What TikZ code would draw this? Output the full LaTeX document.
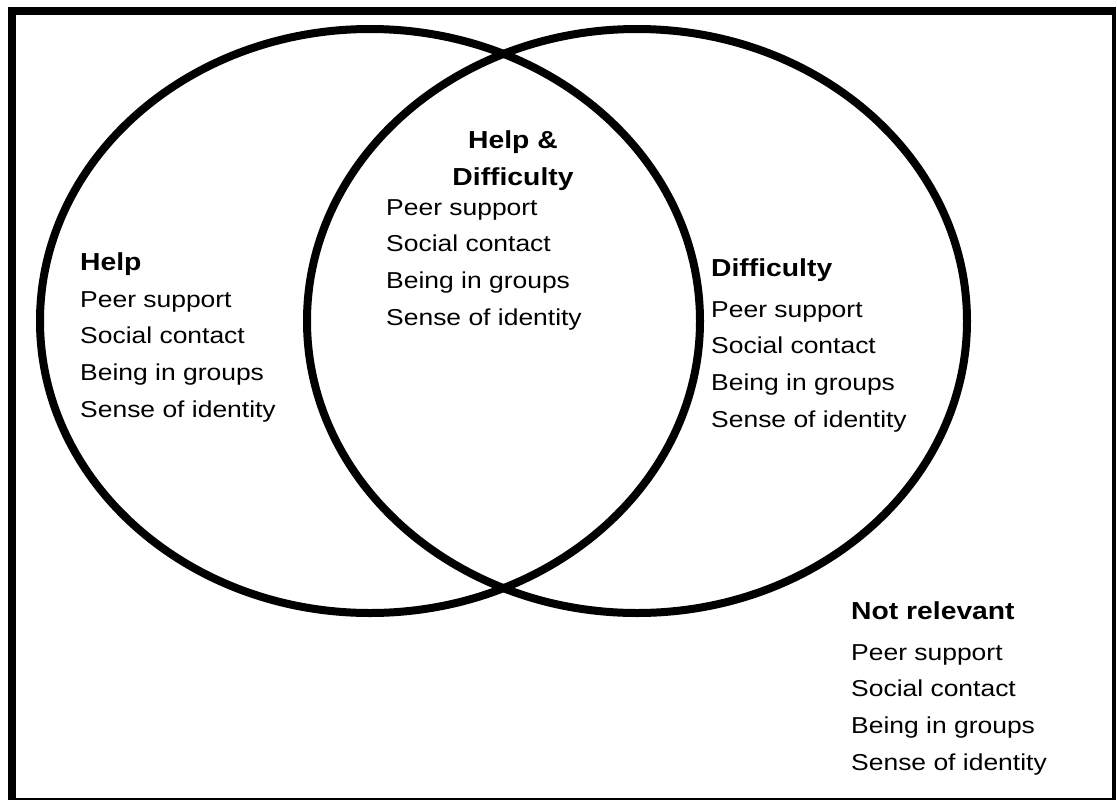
\documentclass[tikz,border=0pt]{standalone}
\usepackage{fontspec}
\setmainfont{Liberation Sans}[FakeStretch=1.15]
\usetikzlibrary{shapes.geometric}
\begin{document}
\begin{tikzpicture}[x=1pt,y=-1pt,
  txt/.style={anchor=base west, inner sep=0pt, font=\fontsize{23}{28}\selectfont},
  head/.style={anchor=base west, inner sep=0pt, font=\fontsize{24.6}{30}\selectfont\bfseries},
  ring/.style={ellipse, draw, line width=8pt, inner sep=0pt, minimum width=660pt, minimum height=584pt}]
\useasboundingbox (0,0) rectangle (1117,801);
\fill[black] (8,7) rectangle (1116,800);
\fill[white] (16,15) rectangle (1112,798);
\node[ring] (L) at (370,321) {};
\node[ring] (R) at (637,321) {};
% Help column
\node[head] (hh) at (80,270) {Help};
\foreach \t [count=\i] in {Peer support,Social contact,Being in groups,Sense of identity}
  \node[txt] (h\i) at (80,{307+36.7*(\i-1)}) {\t};
% Centre column
\node[head, anchor=base] (ch1) at (513,148) {Help \&};
\node[head, anchor=base] (ch2) at (513,185) {Difficulty};
\foreach \t [count=\i] in {Peer support,Social contact,Being in groups,Sense of identity}
  \node[txt] (c\i) at (386,{215+36.7*(\i-1)}) {\t};
% Difficulty column
\node[head] (dh) at (711,276) {Difficulty};
\foreach \t [count=\i] in {Peer support,Social contact,Being in groups,Sense of identity}
  \node[txt] (d\i) at (711,{317+36.7*(\i-1)}) {\t};
% Not relevant column
\node[head] (nh) at (851,619) {Not relevant};
\foreach \t [count=\i] in {Peer support,Social contact,Being in groups,Sense of identity}
  \node[txt] (n\i) at (851,{660+36.7*(\i-1)}) {\t};
\end{tikzpicture}
\end{document}
